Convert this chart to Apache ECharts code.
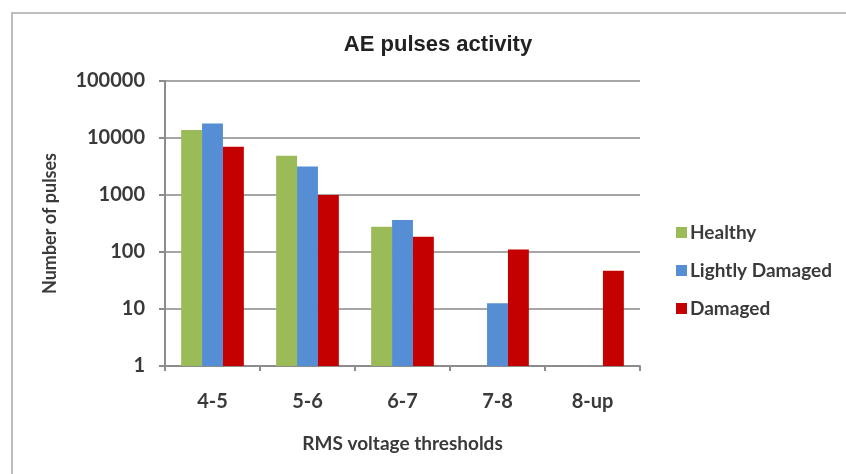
<!DOCTYPE html>
<html>
<head>
<meta charset="utf-8">
<script src="https://cdn.jsdelivr.net/npm/echarts@6/dist/echarts.min.js"></script>
<style>
  html, body { margin: 0; padding: 0; background: #fff; }
  #chart { width: 846px; height: 474px; }
</style>
</head>
<body>
<div id="chart"></div>
<script>
//----------------------Data----------------------
let categories = ["4-5", "5-6", "6-7", "7-8", "8-up"];
let healthy_data = [13800, 4900, 277, 1, null];
let lightly_data = [18000, 3150, 363, 12.6, null];
let damaged_data = [7000, 1000, 185, 111, 47];
let series_names = ["Healthy", "Lightly Damaged", "Damaged"];
let series_colors = ["#9bbb59", "#558ed5", "#c40000"];

let chart = echarts.init(document.getElementById("chart"));
let font_main = "Lato, 'Open Sans', sans-serif";
let text_color = "#3a3a3a";

//---------------------Series---------------------
let series_values = [healthy_data, lightly_data, damaged_data];
let series_list = [];
for (let i = 0; i < series_names.length; i++) {
    series_list.push({
        name: series_names[i],
        type: "bar",
        barGap: 0,
        barCategoryGap: "34%",
        itemStyle: {color: series_colors[i]},
        data: series_values[i].map(function (v) { return v === null ? "-" : v; })
    });
}

//------------------Generate Graph------------------
let option = {
    backgroundColor: "#fff",
    animation: false,
    title: {
        text: "AE pulses activity",
        left: 433,
        top: 29,
        textAlign: "center",
        textStyle: {
            fontFamily: "'Liberation Sans', Arial, sans-serif",
            fontSize: 22,
            fontWeight: "bold",
            color: "#222"
        }
    },
    graphic: [{
        type: "rect",
        shape: {x: 12, y: 13, width: 900, height: 500},
        style: {fill: "none", stroke: "#bdbdbd", lineWidth: 2},
        silent: true
    }],
    grid: {left: 165, right: 206, top: 81, bottom: 108},
    legend: {
        data: series_names,
        orient: "vertical",
        left: 671,
        top: 218,
        itemWidth: 11,
        itemHeight: 11,
        itemGap: 19,
        icon: "rect",
        textStyle: {fontFamily: font_main, fontSize: 19, fontWeight: "bold", color: text_color, padding: [0, 0, 0, -2]}
    },
    xAxis: {
        type: "category",
        data: categories,
        name: "RMS voltage thresholds",
        nameLocation: "middle",
        nameGap: 68,
        nameTextStyle: {fontFamily: font_main, fontSize: 19, fontWeight: "bold", color: text_color},
        axisLine: {lineStyle: {color: "#8c8c8c", width: 2}},
        axisTick: {show: true, length: 5, lineStyle: {color: "#8c8c8c", width: 2}},
        axisLabel: {fontFamily: font_main, fontSize: 20, fontWeight: "bold", color: text_color, margin: 26},
        splitLine: {show: false}
    },
    yAxis: {
        type: "log",
        logBase: 10,
        min: 1,
        max: 100000,
        name: "Number of pulses",
        nameLocation: "middle",
        nameRotate: 90,
        nameGap: 106,
        nameTextStyle: {fontFamily: font_main, fontSize: 18, fontWeight: "bold", color: text_color},
        axisLine: {show: true, lineStyle: {color: "#8c8c8c", width: 2}},
        axisTick: {show: true, length: 6, lineStyle: {color: "#8c8c8c", width: 2}},
        axisLabel: {
            fontFamily: font_main, fontSize: 20, fontWeight: "bold", color: text_color, margin: 20,
            formatter: function (value) { return String(Math.round(value)); }
        },
        splitLine: {show: true, lineStyle: {color: "#a6a6a6", width: 2}},
        minorTick: {show: false},
        minorSplitLine: {show: false}
    },
    series: series_list
};
chart.setOption(option);
</script>
</body>
</html>
